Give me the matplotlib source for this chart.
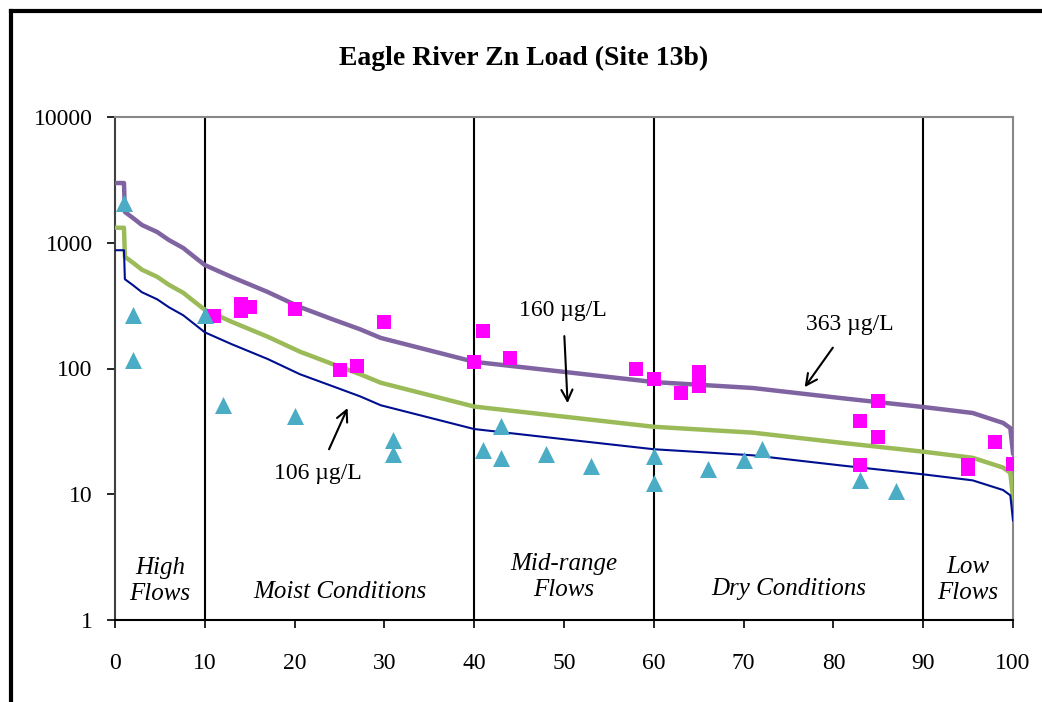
import matplotlib
matplotlib.use("Agg")
import matplotlib.pyplot as plt
from matplotlib.lines import Line2D

plt.rcParams['font.family'] = ['Liberation Serif', 'DejaVu Serif']

# load duration curves (x = flow exceedance %, y = load)
curve_x = [0, 1, 1.1, 2, 3, 4.7, 6, 7.6, 9, 10, 13, 17, 20.6, 24.3, 27.3, 29.6,
           40, 50, 60, 71, 81, 90, 95.5, 98.9, 99.7, 100]
load_363 = [2985, 2985, 1757, 1574, 1384, 1217, 1051, 908, 756, 665, 534, 406, 308,
            245, 205, 175, 113, 94, 78, 70, 58, 49.4, 44.3, 36.9, 33.6, 21.3]
load_160 = [1316, 1316, 774, 694, 610, 536, 463, 400, 333, 293, 235, 179, 136,
            108, 90, 77, 49.8, 41.4, 34.4, 30.9, 25.6, 21.8, 19.5, 16.3, 14.8, 9.4]
load_106 = [872, 872, 513, 460, 404, 355, 307, 265, 221, 194, 156, 119, 90,
            72, 60, 51, 33, 27.4, 22.8, 20.4, 16.9, 14.4, 12.9, 10.8, 9.8, 6.2]

# observed loads - squares
sq_x = [11, 14, 14, 15, 20, 25, 27, 30, 40, 41, 44, 58, 60, 63, 65, 65,
        83, 85, 85, 83, 95, 95, 98, 100]
sq_y = [261, 326, 286, 307, 297, 97, 105, 234, 113, 199, 121, 99, 82, 64, 94, 73,
        38, 55, 28.5, 17, 17, 16, 26, 17.4]

# observed loads - triangles
tri_x = [1, 2, 2, 10, 12, 20, 31, 31, 41, 43, 43, 48, 53, 60, 60, 66, 70, 72, 83, 87]
tri_y = [2070, 266, 117, 266, 51, 42, 27, 21, 22.5, 35, 19.4, 21, 16.8, 20, 12.3,
         15.9, 18.7, 23, 13, 10.6]

zones = [10, 40, 60, 90]
zone_labels = [(5, "High\nFlows", 581), (25, "Moist Conditions", 592),
               (50, "Mid-range\nFlows", 577), (75, "Dry Conditions", 589),
               (95, "Low\nFlows", 580)]


def main():
    fig = plt.figure(figsize=(10.42, 7.02), dpi=100)
    ax = fig.add_axes([115 / 1042, 1 - 620 / 702, 898 / 1042, 503 / 702])

    ax.plot(curve_x, load_363, color='#8064A2', lw=3.2, zorder=3)
    ax.plot(curve_x, load_160, color='#9BBB59', lw=3.2, zorder=3)
    ax.plot(curve_x, load_106, color='#000F8F', lw=1.5, zorder=3)

    ax.scatter(sq_x, sq_y, marker='s', s=110, color='#FF00FF', lw=0, zorder=4)
    ax.scatter(tri_x, tri_y, marker='^', s=150, color='#4BACC6', lw=0, zorder=4)

    for z in zones:
        ax.axvline(z, color='black', lw=1.5, zorder=2)

    ax.set_yscale('log')
    ax.set_ylim(1, 10000)
    ax.set_xlim(0, 100)
    ax.set_xticks(range(0, 101, 10))
    ax.set_yticks([1, 10, 100, 1000, 10000])
    ax.set_yticklabels(['1', '10', '100', '1000', '10000'])
    ax.minorticks_off()
    ax.tick_params(axis='both', labelsize=17, direction='out', length=6, width=1.2)
    ax.tick_params(axis='x', pad=18)
    ax.tick_params(axis='y', pad=10)

    ax.spines['left'].set_color('#404040')
    ax.spines['top'].set_color('#888888')
    ax.spines['right'].set_color('#888888')
    ax.spines['bottom'].set_color('black')
    for s in ax.spines.values():
        s.set_linewidth(1.5)

    # zone labels
    for xc, txt, ypx in zone_labels:
        fig.text((115 + xc * 8.98) / 1042, 1 - ypx / 702, txt, ha='center', va='center',
                 fontsize=18, style='italic', linespacing=1.2)

    # annotations
    arrow = dict(arrowstyle='->', color='black', lw=1.5,
                 shrinkA=9, shrinkB=0, mutation_scale=20)
    ax.annotate("160 \u00b5g/L", xy=(50.4, 53), xytext=(49.9, 290), fontsize=17,
                ha='center', va='center', arrowprops=arrow)
    ax.annotate("363 \u00b5g/L", xy=(76.8, 71), xytext=(81.8, 225), fontsize=17,
                ha='center', va='center', arrowprops=arrow)
    ax.annotate("106 \u00b5g/L", xy=(25.9, 48.5), xytext=(22.6, 14.5), fontsize=17,
                ha='center', va='center', arrowprops=arrow)

    fig.text(524 / 1042, 1 - 58 / 702, "Eagle River Zn Load (Site 13b)", ha='center',
             va='center', fontsize=20, fontweight='bold')

    # outer frame (left and top only visible)
    xl = 10.5 / 1042
    yt = 1 - 11 / 702
    fig.add_artist(Line2D([xl, xl], [0, yt], color='black', lw=3))
    fig.add_artist(Line2D([xl, 1], [yt, yt], color='black', lw=3))

    fig.savefig("out.png", dpi=100)


if __name__ == "__main__":
    main()
